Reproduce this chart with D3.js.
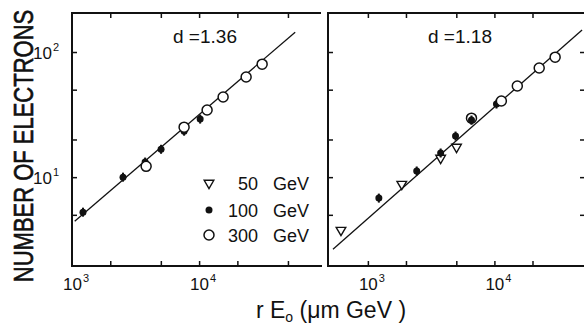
<!DOCTYPE html>
<html><head><meta charset="utf-8">
<script src="https://cdn.jsdelivr.net/npm/d3@7"></script>
<style>
body{margin:0;background:#fff}
text{font-family:"Liberation Sans",Arial,sans-serif;fill:#111}
</style></head><body>
<script>
// values: [r E0 (um GeV), number of electrons]
const left100 = [[1220,5.25],[2520,10],[3760,13.2],[5020,16.7],[7620,23.3],[10190,29.1]];
const left300 = [[3830,12.2],[7620,25.1],[11560,34.4],[15450,43.7],[23440,63.1],[31330,80]];
const leftFit = [[1050,4.45],[57000,144]];
const right50 = [[613,3.77],[1853,8.79],[3760,14.2],[5020,17.4]];
const right100 = [[1221,6.8],[2432,11.2],[3760,15.6],[4930,21.3],[6590,28.6],[10380,38.4]];
const right300 = [[6590,29.6],[11350,40.6],[15170,53.5],[22600,74.5],[30200,91]];
const rightFit = [[530,2.65],[49300,150]];
const yTicks = [5,10,20,50,100];
const yLabels = [[10,"1"],[100,"2"]];
const leftXTicks = [2000,5000,10000,20000,50000];
const rightXTicks = [1000,2000,5000,10000,20000];
const xLabels = [[1000,"3"],[10000,"4"]];
const legendItems = ["50","100","300"];
const panelTitles = ["d =1.36","d =1.18"];

const w = 584, h = 336;
const yTop = 13, yBottom = 266;

const svg = d3.select("body").append("svg")
  .attr("width", w).attr("height", h);

const y = d3.scaleLog().domain([1.95, 205]).range([yBottom, yTop]);

function tri(g, pts, x) {
  g.selectAll(null).data(pts).enter().append("path")
    .attr("d", d3.symbol(d3.symbolTriangle, 40)())
    .attr("transform", d => "translate(" + x(d[0]) + "," + y(d[1]) + ") rotate(180)")
    .attr("fill", "#fff").attr("stroke", "#111").attr("stroke-width", 1.4);
}
function dots(g, pts, x) {
  g.selectAll(null).data(pts).enter().append("line")
    .attr("x1", d => x(d[0])).attr("x2", d => x(d[0]))
    .attr("y1", d => y(d[1]) - 4.5).attr("y2", d => y(d[1]) + 4.5)
    .attr("stroke", "#111").attr("stroke-width", 2);
  g.selectAll(null).data(pts).enter().append("circle")
    .attr("cx", d => x(d[0])).attr("cy", d => y(d[1])).attr("r", 3.5)
    .attr("fill", "#111");
}
function rings(g, pts, x) {
  g.selectAll(null).data(pts).enter().append("circle")
    .attr("cx", d => x(d[0])).attr("cy", d => y(d[1])).attr("r", 5)
    .attr("fill", "#fff").attr("stroke", "#111").attr("stroke-width", 1.5);
}

function panel(x, xTicks, fit, title, rightSide) {
  const g = svg.append("g");
  const [x0, x1] = x.range();

  // ticks (inward)
  const tickStyle = s => {
    s.select(".domain").remove();
    s.selectAll(".tick line").attr("stroke", "#111").attr("stroke-width", 1.5);
  };
  g.append("g").attr("transform", "translate(0," + yBottom + ")")
    .call(d3.axisBottom(x).tickValues(xTicks).tickSize(-5).tickFormat("")).call(tickStyle);
  g.append("g").attr("transform", "translate(0," + yTop + ")")
    .call(d3.axisTop(x).tickValues(xTicks).tickSize(-5).tickFormat("")).call(tickStyle);
  g.append("g").attr("transform", "translate(" + x0 + ",0)")
    .call(d3.axisLeft(y).tickValues(yTicks).tickSize(-5).tickFormat("")).call(tickStyle);
  if (rightSide) {
    g.append("g").attr("transform", "translate(" + x1 + ",0)")
      .call(d3.axisRight(y).tickValues(yTicks).tickSize(-5).tickFormat("")).call(tickStyle);
  }

  // frame
  const frame = rightSide
    ? "M" + x0 + "," + yBottom + "V" + yTop + "H" + x1 + "V" + yBottom + "Z"
    : "M" + x1 + "," + yTop + "H" + x0 + "V" + yBottom + "H" + (x1 + 1);
  g.append("path").attr("d", frame).attr("fill", "none")
    .attr("stroke", "#111").attr("stroke-width", 2);

  // x tick labels: 10 with superscript exponent
  const xt = g.selectAll(null).data(xLabels.filter(d => d[0] >= x.domain()[0])).enter()
    .append("text").attr("x", d => x(d[0]) - 9).attr("y", 290).attr("font-size", 17);
  xt.append("tspan").text("10");
  xt.append("tspan").attr("font-size", 11).attr("dx", 1).attr("dy", -8).text(d => d[1]);

  // fit line
  g.append("path").datum(fit)
    .attr("d", d3.line().x(d => x(d[0])).y(d => y(d[1])))
    .attr("fill", "none").attr("stroke", "#111").attr("stroke-width", 1.3);

  g.append("text").attr("x", rightSide ? 428 : 173).attr("y", 43)
    .attr("font-size", 18)
    .attr("textLength", 64).attr("lengthAdjust", "spacingAndGlyphs").text(title);
  return g;
}

const xl = d3.scaleLog().domain([1000, 91000]).range([72, 321]);
const xr = d3.scaleLog().domain([484, 52000]).range([328, 585]);

const gl = panel(xl, leftXTicks, leftFit, panelTitles[0], false);
dots(gl, left100, xl);
rings(gl, left300, xl);

const gr = panel(xr, rightXTicks, rightFit, panelTitles[1], true);
tri(gr, right50, xr);
dots(gr, right100, xr);
rings(gr, right300, xr);
// the half-filled point at ~6600: dot drawn on top of its ring
dots(gr, right100.filter(d => d[0] === 6590), xr);

// y tick labels
const yl = svg.selectAll(null).data(yLabels).enter()
  .append("text").attr("x", 33).attr("y", d => y(d[0]) + 7).attr("font-size", 17);
yl.append("tspan").text("10");
yl.append("tspan").attr("font-size", 11).attr("dx", 1).attr("dy", -8).text(d => d[1]);

// legend
const lx = 209, ly = [183, 210, 235];
const leg = svg.append("g");
leg.append("path").attr("d", d3.symbol(d3.symbolTriangle, 40)())
  .attr("transform", "translate(" + lx + "," + ly[0] + ") rotate(180)")
  .attr("fill", "#fff").attr("stroke", "#111").attr("stroke-width", 1.4);
leg.append("circle").attr("cx", lx).attr("cy", ly[1]).attr("r", 3.5).attr("fill", "#111");
leg.append("circle").attr("cx", lx).attr("cy", ly[2]).attr("r", 5)
  .attr("fill", "#fff").attr("stroke", "#111").attr("stroke-width", 1.5);
leg.selectAll(null).data(legendItems).enter().append("text")
  .attr("x", 258).attr("y", (d, i) => ly[i] + 7)
  .attr("text-anchor", "end").attr("font-size", 18).text(d => d);
leg.selectAll(null).data(legendItems).enter().append("text")
  .attr("x", 273).attr("y", (d, i) => ly[i] + 7)
  .attr("font-size", 18).text("GeV");

// axis titles
svg.append("text")
  .attr("transform", "translate(33,146) rotate(-90) scale(1,1.27)")
  .attr("text-anchor", "middle").attr("font-size", 22)
  .attr("stroke", "#111").attr("stroke-width", 0.5)
  .text("NUMBER OF ELECTRONS");

const xt = svg.append("text").attr("x", 331).attr("y", 318)
  .attr("text-anchor", "middle").attr("font-size", 23);
xt.append("tspan").text("r E");
xt.append("tspan").attr("font-size", 14).attr("dy", 4).text("o");
xt.append("tspan").attr("dy", -4).text(" (\u03bcm GeV )");
</script>
</body></html>
